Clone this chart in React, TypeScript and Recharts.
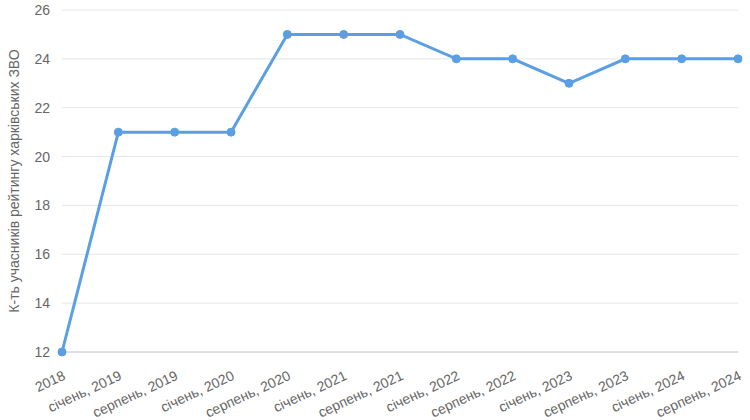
import React from "react";
import {
  LineChart,
  Line,
  XAxis,
  YAxis,
  CartesianGrid,
} from "recharts";

// періоди рейтингу
const periods = [
  "2018",
  "січень, 2019",
  "серпень, 2019",
  "січень, 2020",
  "серпень, 2020",
  "січень, 2021",
  "серпень, 2021",
  "січень, 2022",
  "серпень, 2022",
  "січень, 2023",
  "серпень, 2023",
  "січень, 2024",
  "серпень, 2024",
];

const participants = [12, 21, 21, 21, 25, 25, 25, 24, 24, 23, 24, 24, 24];

const yTicks = [12, 14, 16, 18, 20, 22, 24, 26];

const data = periods.map((p, i) => ({ period: p, count: participants[i] }));

const font = "'Liberation Sans', Arial, sans-serif";

if (typeof document !== "undefined") {
  document.body.style.margin = "0";
}

const App: React.FC = () => {
  return (
    <div style={{ width: 750, height: 420, fontFamily: font }}>
      <LineChart
        width={750}
        height={420}
        data={data}
        margin={{ top: 10, right: 12, left: 0, bottom: 0 }}
      >
        <CartesianGrid vertical={false} stroke="#e6e6e6" strokeWidth={1} />
        <XAxis
          dataKey="period"
          interval={0}
          height={68}
          angle={-25}
          textAnchor="end"
          tickLine={false}
          tickMargin={12}
          axisLine={{ stroke: "#cccccc" }}
          tick={{ fontSize: 14, fill: "#666666", fontFamily: font }}
        />
        <YAxis
          domain={[12, 26]}
          ticks={yTicks}
          width={62}
          axisLine={false}
          tickLine={false}
          tickSize={0}
          tickMargin={12}
          tick={{ fontSize: 14, fill: "#666666", fontFamily: font }}
          label={{
            value: "К-ть учасників рейтингу харківських ЗВО",
            angle: -90,
            position: "insideLeft",
            offset: 14,
            style: {
              textAnchor: "middle",
              fontSize: 14,
              fill: "#666666",
              fontFamily: font,
            },
          }}
        />
        <Line
          type="linear"
          dataKey="count"
          stroke="#5a9fe3"
          strokeWidth={3}
          dot={{ r: 4, fill: "#5a9fe3", stroke: "#5a9fe3", strokeWidth: 1 }}
          isAnimationActive={false}
        />
      </LineChart>
    </div>
  );
};

export default App;
